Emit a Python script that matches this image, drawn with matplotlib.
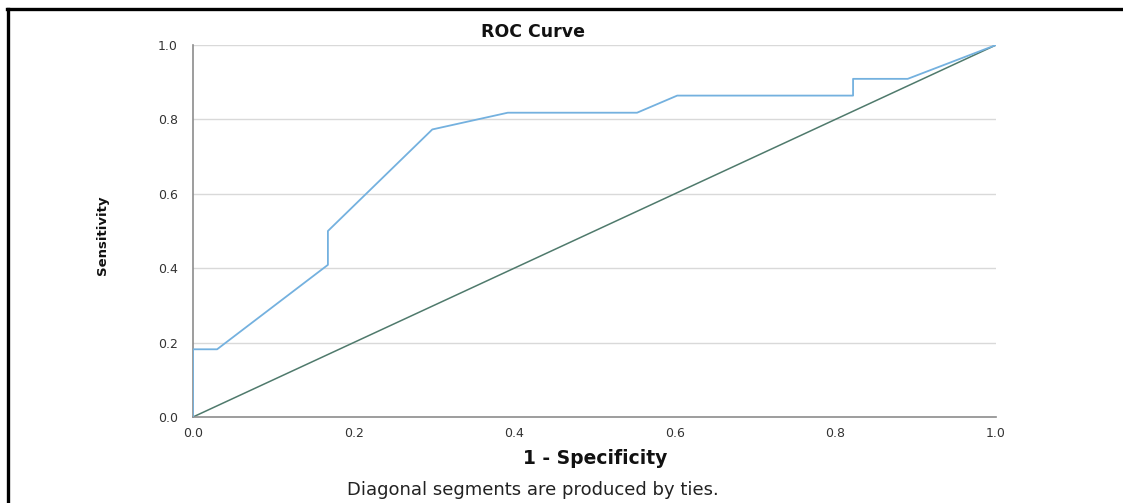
import matplotlib
matplotlib.use("Agg")
import matplotlib.pyplot as plt
from matplotlib.lines import Line2D

# ROC curve data (1 - specificity, sensitivity)
fpr = [0.0, 0.0, 0.030, 0.168, 0.168, 0.298, 0.392, 0.553, 0.603, 0.822, 0.822, 0.890, 1.0]
tpr = [0.0, 0.182, 0.182, 0.409, 0.500, 0.773, 0.818, 0.818, 0.864, 0.864, 0.909, 0.909, 1.0]
ref_x = [0.0, 1.0]
ref_y = [0.0, 1.0]
ticks = [0.0, 0.2, 0.4, 0.6, 0.8, 1.0]
tick_labels = ["0.0", "0.2", "0.4", "0.6", "0.8", "1.0"]

W, H = 1123, 503
fig = plt.figure(figsize=(W / 100, H / 100), dpi=100)
fig.patch.set_facecolor("white")

ax = fig.add_axes([193 / W, 1 - 417 / H, (996 - 193) / W, (417 - 45) / H])
ax.set_xlim(0, 1)
ax.set_ylim(0, 1)

for t in ticks[1:]:
    ax.axhline(t, color="#d9d9d9", lw=1.0, zorder=0)

ax.plot(ref_x, ref_y, color="#4f7a6c", lw=1.1, zorder=2)
ax.plot(fpr, tpr, color="#74b1df", lw=1.3, zorder=3)

for s in ["top", "right"]:
    ax.spines[s].set_visible(False)
for s in ["left", "bottom"]:
    ax.spines[s].set_color("#8c8c8c")
    ax.spines[s].set_linewidth(1.2)

ax.set_xticks(ticks)
ax.set_xticklabels(tick_labels)
ax.set_yticks(ticks)
ax.set_yticklabels(tick_labels)
ax.tick_params(axis="both", length=0, labelsize=9, colors="#333333")
ax.tick_params(axis="x", pad=7)
ax.tick_params(axis="y", pad=11)

fig.text(533 / W, 1 - 32 / H, "ROC Curve", ha="center", va="center",
         fontsize=12.5, fontweight="bold", color="#111111")
fig.text(595 / W, 1 - 458 / H, "1 - Specificity", ha="center", va="center",
         fontsize=13.5, fontweight="bold", color="#111111")
fig.text(103 / W, 1 - 235 / H, "Sensitivity", ha="center", va="center",
         rotation=90, fontsize=9.5, fontweight="bold", color="#111111")
fig.text(533 / W, 1 - 490 / H, "Diagonal segments are produced by ties.",
         ha="center", va="center", fontsize=13, color="#222222")

# outer frame (top and left edges)
fig.add_artist(Line2D([7 / W, 1.0], [1 - 9 / H, 1 - 9 / H], transform=fig.transFigure,
                      color="black", lw=2.4))
fig.add_artist(Line2D([8 / W, 8 / W], [1 - 9 / H, 0.0], transform=fig.transFigure,
                      color="black", lw=2.4))

fig.savefig("out.png", dpi=100)
